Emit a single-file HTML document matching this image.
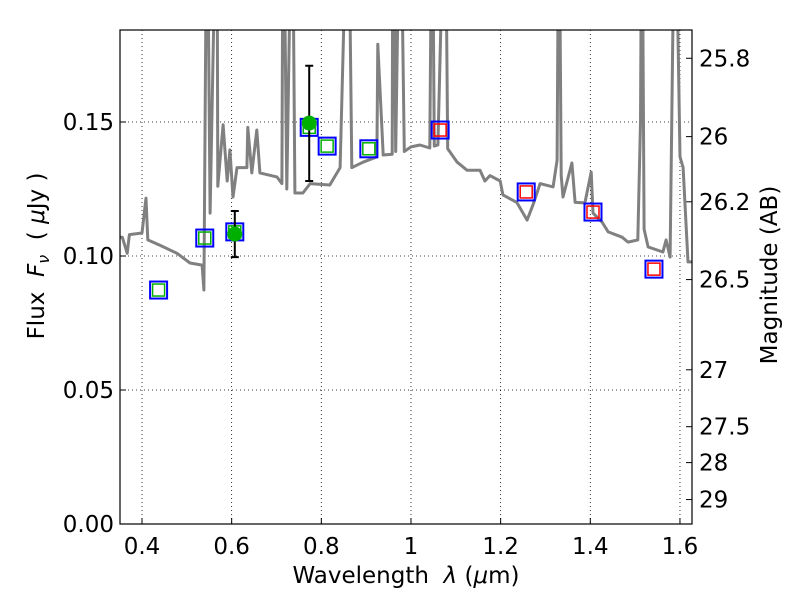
<!DOCTYPE html>
<html><head><meta charset="utf-8"><style>
body{margin:0;background:#fff}
svg text{font-family:"DejaVu Sans","Liberation Sans",sans-serif;fill:#000}
</style></head><body>
<svg id="c" width="800" height="600" viewBox="0 0 800 600"></svg>
<script>
const specLam=[0.352,0.356,0.367,0.372,0.4,0.409,0.413,0.44,0.478,0.507,0.534,0.538,0.545,0.552,0.567,0.569,0.581,0.59,0.596,0.603,0.612,0.634,0.636,0.645,0.656,0.663,0.701,0.712,0.715,0.723,0.735,0.741,0.759,0.775,0.819,0.842,0.86,0.868,0.893,0.924,0.926,0.938,0.958,0.96,0.966,0.976,0.985,1.0,1.02,1.042,1.047,1.052,1.06,1.076,1.082,1.087,1.103,1.125,1.154,1.165,1.176,1.199,1.205,1.236,1.259,1.272,1.288,1.317,1.326,1.33,1.335,1.339,1.359,1.366,1.388,1.402,1.406,1.426,1.44,1.471,1.484,1.506,1.512,1.515,1.52,1.529,1.562,1.569,1.578,1.589,1.6,1.607,1.618,1.63];
const specFlux=[0.107,0.107,0.101,0.108,0.1086,0.1216,0.106,0.104,0.101,0.0974,0.0966,0.0873,0.25,0.116,0.25,0.126,0.149,0.128,0.1396,0.122,0.133,0.133,0.148,0.131,0.147,0.131,0.1295,0.127,0.25,0.125,0.25,0.1235,0.1235,0.127,0.1265,0.133,0.25,0.133,0.135,0.137,0.179,0.1377,0.138,0.25,0.139,0.25,0.139,0.1407,0.1414,0.1403,0.25,0.141,0.1414,0.25,0.14,0.1388,0.135,0.132,0.132,0.128,0.130,0.128,0.1228,0.120,0.1134,0.119,0.127,0.1258,0.1358,0.25,0.13,0.122,0.1347,0.120,0.1198,0.1313,0.116,0.1127,0.109,0.107,0.1052,0.106,0.15,0.25,0.11,0.1034,0.1015,0.106,0.0996,0.25,0.137,0.133,0.0978,0.0978];
const modelLam=[0.437,0.54,0.607,0.773,0.813,0.906,1.065,1.257,1.406,1.542];
const modelFlux=[0.0873,0.1067,0.109,0.148,0.141,0.140,0.147,0.1239,0.1164,0.0951];
const modelKind=["g","g","g","g","g","g","r","r","r","r"];
const obsLam=[0.607,0.773];
const obsFlux=[0.1082,0.1496];
const obsLo=[0.0996,0.128];
const obsHi=[0.1168,0.171];
const xTicks=[0.4,0.6,0.8,1.0,1.2,1.4,1.6];
const xTickLabels=["0.4","0.6","0.8","1","1.2","1.4","1.6"];
const yTicks=[0,0.05,0.10,0.15];
const yTickLabels=["0.00","0.05","0.10","0.15"];
const magTicks=[25.8,26,26.2,26.5,27,27.5,28,29];
const magTickLabels=["25.8","26","26.2","26.5","27","27.5","28","29"];

const L=120,R=692,T=30,B=524;
const X=v=>142+(v-0.4)*448.3;
const Y=v=>B-v*2680;
const NS="http://www.w3.org/2000/svg";
const svg=document.getElementById('c');
function mk(tag,at,parent){const e=document.createElementNS(NS,tag);for(const k in at)e.setAttribute(k,at[k]);(parent||svg).appendChild(e);return e;}

const clip=mk('clipPath',{id:'pc'});mk('rect',{x:L,y:T,width:R-L,height:B-T},clip);
xTicks.forEach((v,i)=>{
  const g=mk('line',{x1:X(v),x2:X(v),y1:T,y2:B,stroke:'#000','stroke-width':0.8,'stroke-dasharray':'1,3'});
  
  
  const t=mk('line',{x1:X(v),x2:X(v),y1:B,y2:B-6,stroke:'#000'});
  
  
  const tx=mk('text',{x:X(v),y:B+30,'text-anchor':'middle','font-size':23});
  tx.textContent=xTickLabels[i];
  
  
});
yTicks.forEach((v,i)=>{
  const g=mk('line',{x1:L,x2:R,y1:Y(v),y2:Y(v),stroke:'#000','stroke-width':0.8,'stroke-dasharray':'1,3'});
  
  
  const t=mk('line',{x1:L,x2:L+6,y1:Y(v),y2:Y(v),stroke:'#000'});
  
  
  const tx=mk('text',{x:L-6,y:Y(v)+8,'text-anchor':'end','font-size':23});
  tx.textContent=yTickLabels[i];
  
  
});
magTicks.forEach((m,i)=>{
  const f=Math.pow(10,(23.9-m)/2.5);
  const y=Y(f);
  const t=mk('line',{x1:R-6,x2:R,y1:y,y2:y,stroke:'#000'});
  
  
  const tx=mk('text',{x:R+7,y:y+8,'font-size':23});
  tx.textContent=magTickLabels[i];
  
  
});
const pts=specLam.map((l,i)=>X(l).toFixed(1)+','+Y(specFlux[i]).toFixed(1)).join(' ');
const sp=mk('polyline',{points:pts,fill:'none',stroke:'#808080','stroke-width':3,'clip-path':'url(#pc)','stroke-linejoin':'round'});


modelLam.forEach((l,i)=>{
  const x=X(l),y=Y(modelFlux[i]);
  const o=mk('rect',{x:x-8.5,y:y-8.5,width:17,height:17,fill:'none',stroke:'#0000ff','stroke-width':2});
  
  
  const inn=mk('rect',{x:x-6,y:y-6,width:12,height:12,fill:'none',stroke:modelKind[i]==='g'?'#00b000':'#ff0000','stroke-width':1.5});
  
  
});
obsLam.forEach((l,i)=>{
  const x=X(l);
  const e=mk('path',{d:`M${x},${Y(obsLo[i])}V${Y(obsHi[i])}M${x-4},${Y(obsLo[i])}h8M${x-4},${Y(obsHi[i])}h8`,stroke:'#000','stroke-width':2,fill:'none'});
  
  
  const c=mk('circle',{cx:x,cy:Y(obsFlux[i]),r:7.5,fill:'#00b000'});
  
  
});
const fr=mk('rect',{x:L,y:T,width:R-L,height:B-T,fill:'none',stroke:'#000','stroke-width':1.2});


</script>
<svg width="800" height="600" style="position:absolute;left:0;top:0">
<text x="406" y="583" text-anchor="middle" font-size="23">Wavelength&#160;&#160;<tspan font-style="italic">λ</tspan>&#160;(<tspan font-style="italic">μ</tspan>m)</text>
<text transform="translate(44,256) rotate(-90)" text-anchor="middle" font-size="23">Flux&#160;&#160;<tspan font-style="italic">F</tspan><tspan font-style="italic" font-size="16" dy="5">ν</tspan><tspan dy="-5">&#160;&#160;(&#160;</tspan><tspan font-style="italic">μ</tspan>Jy&#160;)</text>
<text transform="translate(777,275) rotate(-90)" text-anchor="middle" font-size="23">Magnitude (AB)</text>
</svg>
</body></html>
